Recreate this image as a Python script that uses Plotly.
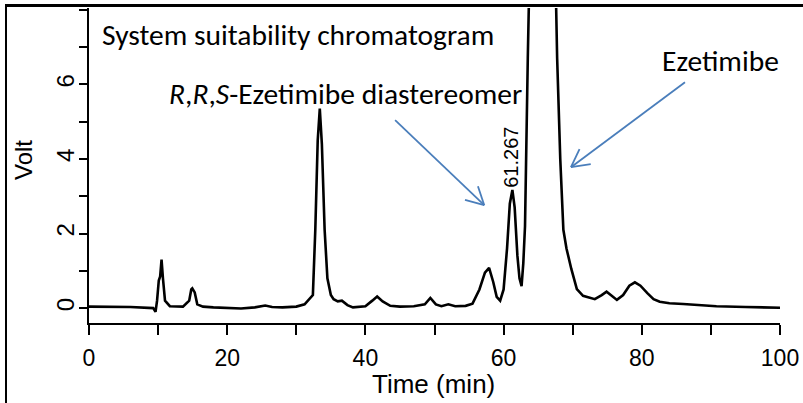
import math
import plotly.graph_objects as go

# ---- data ----
time_min = [0, 3, 6, 9.3, 9.63, 9.85, 10.1, 10.3, 10.5, 10.7, 11.0, 11.7, 13.6, 14.5, 14.8, 14.95, 15.3,
            15.67, 16.5, 18, 20, 22, 24, 25.5, 26.5, 28, 30, 31.2, 32.4, 32.75, 33.1, 33.4, 33.7, 34.1,
            34.5, 35.0, 35.4, 36.0, 36.6, 37.4, 38.2, 40.0, 41.0, 41.7, 42.5, 43.6, 45, 47, 48.6, 49.4,
            50.2, 51, 52, 53, 54.5, 55.5, 56.5, 57.3, 57.9, 58.5, 59.0, 59.5, 60.0, 60.5, 60.9, 61.27,
            61.6, 62.0, 62.3, 62.6, 62.85, 63.1, 63.5, 63.65, 65.6, 67.6, 67.75, 68.2, 68.65, 69.1, 69.8,
            70.6, 71.5, 73.2, 74.2, 74.9, 75.6, 76.4, 77.3, 78.2, 79.0, 79.8, 80.8, 81.7, 82.6, 84, 86,
            88, 90.8, 95, 100]
volt = [0.04, 0.04, 0.03, 0.0, -0.1, 0.2, 0.74, 0.85, 1.3, 0.8, 0.2, 0.05, 0.04, 0.2, 0.5, 0.53, 0.42,
        0.1, 0.04, 0.02, 0.0, -0.01, 0.02, 0.07, 0.03, 0.02, 0.04, 0.1, 0.35, 2.1, 4.5, 5.35, 4.4, 2.1,
        0.8, 0.35, 0.24, 0.18, 0.2, 0.08, 0.02, 0.05, 0.2, 0.31, 0.18, 0.06, 0.04, 0.05, 0.1, 0.27,
        0.1, 0.05, 0.1, 0.05, 0.06, 0.12, 0.5, 0.95, 1.08, 0.7, 0.3, 0.2, 0.5, 1.6, 2.8, 3.17,
        2.7, 1.4, 0.8, 0.59, 1.2, 2.2, 6.7, 8.1, 14.0, 8.1, 6.7, 4.0, 2.1, 1.6, 1.05,
        0.51, 0.33, 0.24, 0.35, 0.44, 0.34, 0.22, 0.35, 0.6, 0.69, 0.6, 0.4, 0.24, 0.17, 0.13, 0.11,
        0.08, 0.05, 0.03, 0.01]

x_tick_vals = list(range(0, 101, 10))
x_tick_text = ["0", "", "20", "", "40", "", "60", "", "80", "", "100"]
y_tick_vals = list(range(0, 9))
y_tick_text = ["0", "", "2", "", "4", "", "6", "", ""]

peak_label_time = 61.267
peak_label_volt = 3.17

# arrows: (tail_x, tail_y, head_x, head_y) in data units
arrows = [(44.3, 5.04, 57.2, 2.76), (86.25, 6.06, 69.75, 3.78)]

# ---- layout geometry (pixels) ----
W, H = 803, 403
FL, FT = 7, 7                      # outer frame: left / top edge
PL, PR, PT, PB = 89, 780, 8, 323   # data plot area
XR = [0, 100]
YR = [-0.40, 8.05]
aw, ah = W - FL, H - FT
sx = (PR - PL) / (XR[1] - XR[0])
sy = (PB - PT) / (YR[1] - YR[0])

def px2paper(px, py):
    return (px - FL) / aw, (H - py) / ah

xdom = [(PL - FL) / aw, (PR - FL) / aw]
ydom = [(H - PB) / ah, (H - PT) / ah]

fig = go.Figure()
fig.add_trace(go.Scatter(x=time_min, y=volt, mode="lines", xaxis="x", yaxis="y",
                         line=dict(color="black", width=2.6), hoverinfo="skip", showlegend=False))
# empty trace that carries the frame axes
fig.add_trace(go.Scatter(x=[], y=[], xaxis="x2", yaxis="y2", mode="lines",
                         hoverinfo="skip", showlegend=False))

shapes = []
blue = "#4A7EBB"
for tx, ty, hx, hy in arrows:
    shapes.append(dict(type="line", xref="x", yref="y", x0=tx, y0=ty, x1=hx, y1=hy,
                       line=dict(color=blue, width=1.8)))
    dxp, dyp = (tx - hx) * sx, (ty - hy) * sy
    L = math.hypot(dxp, dyp)
    ux, uy = dxp / L, dyp / L
    for ang in (28, -28):
        a = math.radians(ang)
        rx = ux * math.cos(a) - uy * math.sin(a)
        ry = ux * math.sin(a) + uy * math.cos(a)
        shapes.append(dict(type="line", xref="x", yref="y", x0=hx, y0=hy,
                           x1=hx + rx * 20 / sx, y1=hy + ry * 20 / sy,
                           line=dict(color=blue, width=1.8)))

cal = dict(family="Carlito, Calibri, Lato, sans-serif", size=29.5, color="black")
ari = dict(family="Liberation Sans, Arial", size=24, color="black")
tick_x_font = dict(family="Liberation Sans, Arial", size=23, color="black")
title_font = dict(family="Liberation Sans, Arial", size=26, color="black")

ann = []
x, y = px2paper(100, 35)
ann.append(dict(text="System suitability chromatogram", xref="paper", yref="paper", x=x, y=y,
                xanchor="left", yanchor="middle", showarrow=False, font=cal))
x, y = px2paper(167, 94)
ann.append(dict(text="<i>R</i>,<i>R</i>,<i>S</i>-Ezetimibe diastereomer", xref="paper", yref="paper",
                x=x, y=y, xanchor="left", yanchor="middle", showarrow=False, font=cal))
x, y = px2paper(720, 61)
ann.append(dict(text="Ezetimibe", xref="paper", yref="paper", x=x, y=y,
                xanchor="center", yanchor="middle", showarrow=False, font=cal))
ann.append(dict(text="61.267", x=peak_label_time, y=peak_label_volt, xref="x", yref="y",
                textangle=-90, xanchor="center", yanchor="bottom", yshift=0, xshift=-1,
                showarrow=False, font=dict(family="Liberation Sans, Arial", size=20, color="black")))
x, y = px2paper(23, 160)
ann.append(dict(text="Volt", xref="paper", yref="paper", x=x, y=y, textangle=-90,
                xanchor="center", yanchor="middle", showarrow=False, font=ari))
x, y = px2paper(433, 384)
ann.append(dict(text="Time (min)", xref="paper", yref="paper", x=x, y=y,
                xanchor="center", yanchor="middle", showarrow=False, font=title_font))

fig.update_layout(
    width=W, height=H, autosize=False,
    margin=dict(l=FL, r=0, t=FT, b=0, pad=0),
    paper_bgcolor="white", plot_bgcolor="rgba(0,0,0,0)",
    xaxis=dict(domain=xdom, anchor="y", range=XR, showgrid=False, zeroline=False, showline=True,
               linecolor="black", linewidth=1.5, ticks="outside", ticklen=10, tickwidth=1.5,
               tickcolor="black", tickmode="array", tickvals=x_tick_vals, ticktext=x_tick_text,
               tickfont=tick_x_font, ticklabelstandoff=4, automargin=False),
    yaxis=dict(domain=ydom, anchor="x", range=YR, showgrid=False, zeroline=False, showline=True,
               linecolor="black", linewidth=1.5, ticks="outside", ticklen=8, tickwidth=1.5,
               tickcolor="black", tickmode="array", tickvals=y_tick_vals, ticktext=y_tick_text,
               tickfont=ari, tickangle=-90, ticklabelstandoff=-4, automargin=False),
    xaxis2=dict(domain=[0, 1], anchor="y2", side="top", range=[0, 1], showline=True,
                linecolor="black", linewidth=2.5, showgrid=False, zeroline=False,
                showticklabels=False, ticks="", automargin=False, fixedrange=True),
    yaxis2=dict(domain=[0, 1], anchor="x2", side="left", range=[0, 1], showline=True,
                linecolor="black", linewidth=2, showgrid=False, zeroline=False,
                showticklabels=False, ticks="", automargin=False, fixedrange=True),
    shapes=shapes, annotations=ann,
)

fig.write_html("out.html", config={"displayModeBar": False},
               post_script="document.body.style.margin='0';")
